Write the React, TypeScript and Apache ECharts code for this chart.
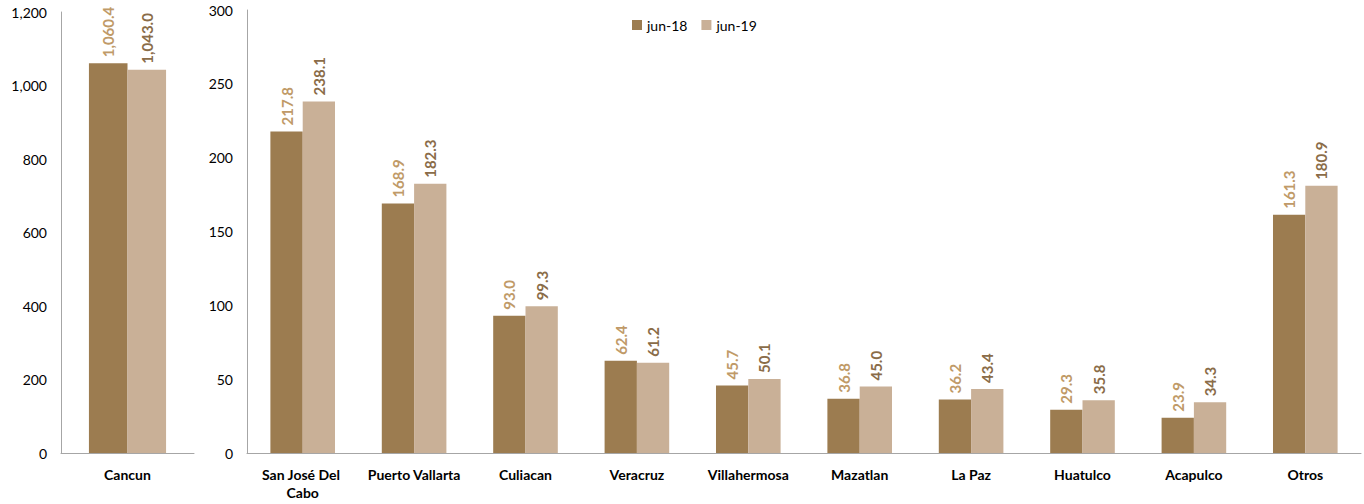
import React, { useEffect, useRef } from "react";
import * as echarts from "echarts";

const leftCategories = ["Cancun"];
const leftJun18 = [1060.4];
const leftJun19 = [1043.0];

const rightCategories = [
  "San José Del Cabo",
  "Puerto Vallarta",
  "Culiacan",
  "Veracruz",
  "Villahermosa",
  "Mazatlan",
  "La Paz",
  "Huatulco",
  "Acapulco",
  "Otros",
];
const rightJun18 = [217.8, 168.9, 93.0, 62.4, 45.7, 36.8, 36.2, 29.3, 23.9, 161.3];
const rightJun19 = [238.1, 182.3, 99.3, 61.2, 50.1, 45.0, 43.4, 35.8, 34.3, 180.9];

const C18 = "#9C7C50";
const C19 = "#C9B097";
const L18 = "#C09A68";
const L19 = "#8A6C48";
const FONT = "Lato, 'Open Sans', sans-serif";

const fmt = (v: number) =>
  v.toLocaleString("en-US", { minimumFractionDigits: 1, maximumFractionDigits: 1 });

export default function App() {
  const ref = useRef<HTMLDivElement>(null);
  useEffect(() => {
    if (!ref.current) return;
    const chart = echarts.init(ref.current, undefined, { renderer: "svg" });
    const label = (color: string) => ({
      show: true,
      position: "top" as const,
      rotate: 90,
      align: "left" as const,
      verticalAlign: "middle" as const,
      distance: 6,
      color,
      fontFamily: FONT,
      fontWeight: "bold" as const,
      fontSize: 15,
      formatter: (p: any) => fmt(p.value),
    });
    const axisLine = { show: true, lineStyle: { color: "#A6A6A6", width: 1 } };
    const yLabel = { color: "#000", fontFamily: FONT, fontSize: 14, margin: 14 };
    const xLabel = {
      color: "#000",
      fontFamily: FONT,
      fontSize: 14,
      fontWeight: "bold" as const,
      margin: 12,
      interval: 0,
      width: 104,
      overflow: "break" as const,
      lineHeight: 18,
    };
    chart.setOption({
      animation: false,
      legend: {
        data: ["jun-18", "jun-19"],
        left: 627,
        top: 13,
        itemWidth: 10,
        itemHeight: 10,
        itemGap: 14,
        icon: "rect",
        textStyle: { fontFamily: FONT, fontSize: 14, color: "#000" },
      },
      grid: [
        { left: 61, top: 12, width: 133, height: 441 },
        { left: 247, top: 10, width: 1114, height: 443 },
      ],
      xAxis: [
        {
          type: "category",
          gridIndex: 0,
          data: leftCategories,
          axisLine,
          axisTick: { show: false },
          axisLabel: xLabel,
        },
        {
          type: "category",
          gridIndex: 1,
          data: rightCategories,
          axisLine,
          axisTick: { show: false },
          axisLabel: xLabel,
        },
      ],
      yAxis: [
        {
          type: "value",
          gridIndex: 0,
          min: 0,
          max: 1200,
          interval: 200,
          axisLine,
          axisTick: { show: false },
          splitLine: { show: false },
          axisLabel: { ...yLabel, formatter: (v: number) => v.toLocaleString("en-US") },
        },
        {
          type: "value",
          gridIndex: 1,
          min: 0,
          max: 300,
          interval: 50,
          axisLine,
          axisTick: { show: false },
          splitLine: { show: false },
          axisLabel: yLabel,
        },
      ],
      series: [
        {
          name: "jun-18",
          type: "bar",
          xAxisIndex: 0,
          yAxisIndex: 0,
          data: leftJun18,
          barWidth: "29%",
          barGap: "0%",
          itemStyle: { color: C18 },
          label: label(L18),
        },
        {
          name: "jun-19",
          type: "bar",
          xAxisIndex: 0,
          yAxisIndex: 0,
          data: leftJun19,
          barWidth: "29%",
          barGap: "0%",
          itemStyle: { color: C19 },
          label: label(L19),
        },
        {
          name: "jun-18",
          type: "bar",
          xAxisIndex: 1,
          yAxisIndex: 1,
          data: rightJun18,
          barWidth: "29%",
          barGap: "0%",
          itemStyle: { color: C18 },
          label: label(L18),
        },
        {
          name: "jun-19",
          type: "bar",
          xAxisIndex: 1,
          yAxisIndex: 1,
          data: rightJun19,
          barWidth: "29%",
          barGap: "0%",
          itemStyle: { color: C19 },
          label: label(L19),
        },
      ],
    });
    return () => chart.dispose();
  }, []);
  return (
    <div
      ref={ref}
      style={{ position: "absolute", left: 0, top: 0, width: 1364, height: 504, background: "#fff" }}
    />
  );
}
